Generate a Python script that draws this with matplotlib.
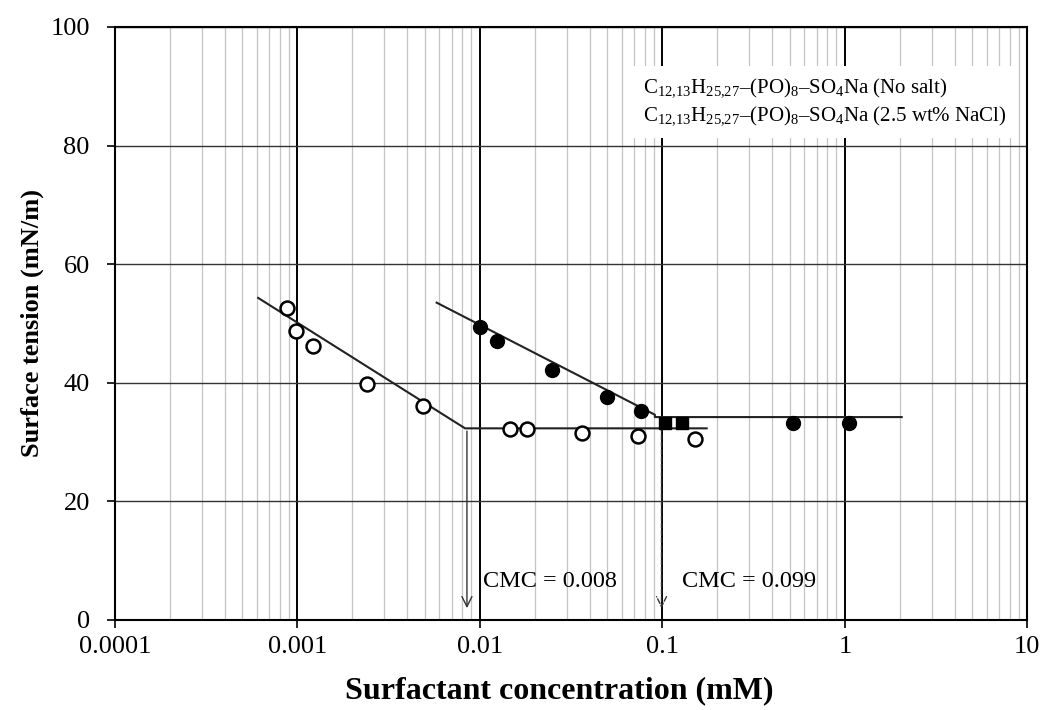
import matplotlib
matplotlib.use('Agg')
import matplotlib.pyplot as plt
from matplotlib.ticker import LogLocator, NullFormatter

plt.rcParams['font.family'] = ['Liberation Serif', 'DejaVu Serif']
plt.rcParams['mathtext.fontset'] = 'custom'
plt.rcParams['mathtext.rm'] = 'Liberation Serif'
plt.rcParams['mathtext.it'] = 'Liberation Serif:italic'
plt.rcParams['mathtext.bf'] = 'Liberation Serif:bold'

# No salt (open circles)
conc_nosalt = [0.00088, 0.00098, 0.00122, 0.0024, 0.0049, 0.0146, 0.0181, 0.0362, 0.0735, 0.151]
st_nosalt = [52.6, 48.7, 46.2, 39.8, 36.1, 32.2, 32.2, 31.5, 31.0, 30.5]

# 2.5 wt% NaCl (filled circles)
conc_salt = [0.0100, 0.0124, 0.025, 0.050, 0.0762, 0.519, 1.06]
st_salt = [49.4, 47.0, 42.2, 37.6, 35.2, 33.2, 33.2]
conc_salt_sq = [0.104, 0.129]
st_salt_sq = [33.2, 33.2]

# fitted lines
fit_nosalt_x = [0.00061, 0.0083, 0.175]
fit_nosalt_y = [54.3, 32.3, 32.3]
fit_salt_x = [0.0058, 0.091, 0.091, 2.05]
fit_salt_y = [53.5, 34.6, 34.2, 34.2]

cmc_values = [0.0085, 0.099]
cmc_labels = ['CMC = 0.008', 'CMC = 0.099']
cmc_text_x = [0.0104, 0.128]
cmc_tops = [32.3, 34.2]

fig = plt.figure(figsize=(10.44, 7.10), dpi=100)
ax = fig.add_axes([0.110, 0.127, 0.874, 0.835])

ax.set_xscale('log')
ax.set_xlim(0.0001, 10)
ax.set_ylim(0, 100)

# grid
ax.xaxis.set_minor_locator(LogLocator(base=10, subs=range(2, 10), numticks=100))
ax.xaxis.set_minor_formatter(NullFormatter())
ax.set_xticks([0.0001, 0.001, 0.01, 0.1, 1, 10])
ax.set_xticklabels(['0.0001', '0.001', '0.01', '0.1', '1', '10'])
ax.set_yticks([0, 20, 40, 60, 80, 100])
ax.grid(True, which='major', axis='x', color='black', lw=1.4)
ax.grid(True, which='minor', axis='x', color='#c4c4c4', lw=0.9)
ax.grid(True, which='major', axis='y', color='#333333', lw=1.0)
ax.set_axisbelow(True)

ax.tick_params(axis='both', which='major', direction='out', length=6, width=1.2,
               labelsize=19, colors='black')
ax.tick_params(axis='x', which='minor', length=0)
ax.tick_params(axis='x', which='major', pad=6)
ax.tick_params(axis='y', which='major', pad=12)
for s in ax.spines.values():
    s.set_linewidth(1.5)
    s.set_color('black')

# fitted lines
ax.plot(fit_nosalt_x, fit_nosalt_y, color='#222222', lw=1.5, zorder=3)
ax.plot(fit_salt_x, fit_salt_y, color='#222222', lw=1.5, zorder=3)

# data
ax.plot(conc_nosalt, st_nosalt, 'o', ms=10, mfc='white', mec='black', mew=1.8, ls='none', zorder=4)
ax.plot(conc_salt, st_salt, 'o', ms=10, mfc='black', mec='black', ls='none', zorder=4)
ax.plot(conc_salt_sq, st_salt_sq, 's', ms=8, mfc='black', mec='black', ls='none', zorder=4)

# CMC arrows
styles = ['-', '--']
for xv, top, ls in zip(cmc_values, cmc_tops, styles):
    ax.annotate('', xy=(xv, 1.5), xytext=(xv, top),
                arrowprops=dict(arrowstyle='->', color='#333333', lw=1.0, ls=ls,
                                mutation_scale=18), zorder=3)
for xt, lab in zip(cmc_text_x, cmc_labels):
    ax.text(xt, 6.4, lab, fontsize=17.5, va='center', ha='left', zorder=5)

# legend as text
leg = (r'C$_{12{,}13}$H$_{25{,}27}$–(PO)$_{8}$–SO$_{4}$Na (No salt)' + '\n' +
       r'C$_{12{,}13}$H$_{25{,}27}$–(PO)$_{8}$–SO$_{4}$Na (2.5 wt% NaCl)')
ax.text(0.078, 91.7, leg, fontsize=15, va='top', ha='left', linespacing=1.35, zorder=6,
        bbox=dict(boxstyle='square,pad=0.5', fc='white', ec='none'))

ax.set_xlabel('Surfactant concentration (mM)', fontsize=23, fontweight='bold')
ax.xaxis.set_label_coords(0.487, -0.095)
ax.set_ylabel('Surface tension (mN/m)', fontsize=19, fontweight='bold')
ax.yaxis.set_label_coords(-0.078, 0.5)

fig.savefig('out.png', dpi=100)
